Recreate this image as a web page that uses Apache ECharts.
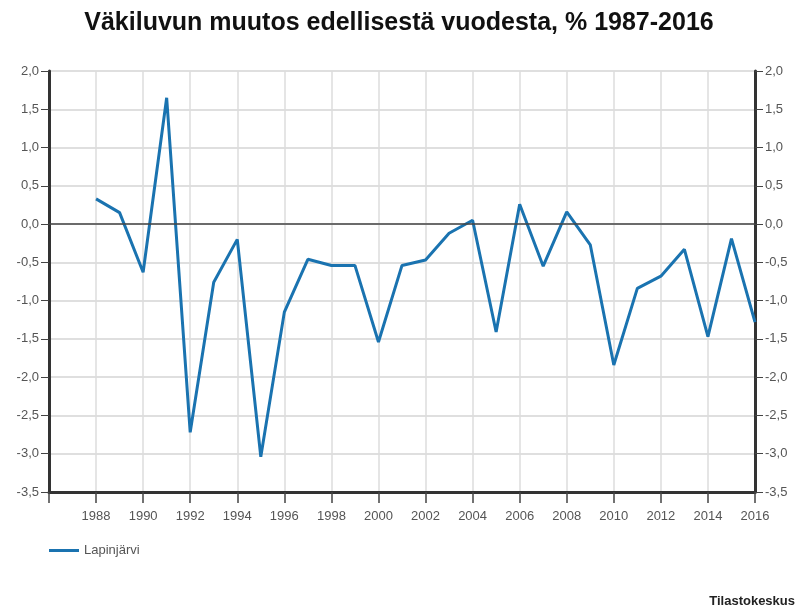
<!DOCTYPE html>
<html><head><meta charset="utf-8">
<script src="https://cdn.jsdelivr.net/npm/echarts@6/dist/echarts.min.js"></script>
<style>html,body{margin:0;padding:0;background:#fff}#c{width:798px;height:612px}</style>
</head><body><div id="c"></div>
<script>
const title = 'Väkiluvun muutos edellisestä vuodesta, % 1987-2016';
const seriesName = 'Lapinjärvi';
const source = 'Tilastokeskus';
const years = [1988,1989,1990,1991,1992,1993,1994,1995,1996,1997,1998,1999,2000,2001,2002,2003,2004,2005,2006,2007,2008,2009,2010,2011,2012,2013,2014,2015,2016];
const values = [0.33,0.15,-0.63,1.65,-2.72,-0.76,-0.20,-3.04,-1.15,-0.46,-0.54,-0.54,-1.54,-0.54,-0.47,-0.12,0.05,-1.41,0.26,-0.55,0.16,-0.27,-1.84,-0.84,-0.68,-0.33,-1.47,-0.19,-1.28];
const yTicks = {min:-3.5, max:2.0, interval:0.5};
const xTicks = {min:1986, max:2016, interval:2};

const FONT = 'Liberation Sans, Arial, sans-serif';
const fmtY = v => v.toFixed(1).replace('.', ',');
const labelStyle = {color:'#555', fontSize:13, fontFamily:FONT};
const yAxisCommon = {
  type:'value', min:yTicks.min, max:yTicks.max, interval:yTicks.interval,
  axisLine:{show:true, lineStyle:{color:'#333', width:3}},
  axisTick:{show:true, length:8, lineStyle:{color:'#444', width:1}},
  splitLine:{show:true, lineStyle:{color:'#ddd', width:1.5}},
  axisLabel:Object.assign({formatter:fmtY, margin:10}, labelStyle)
};
const chart = echarts.init(document.getElementById('c'), null, {renderer:'canvas'});
chart.setOption({
  animation:false,
  backgroundColor:'#fff',
  title:{text:title, left:'center', top:6, textStyle:{fontSize:25, fontWeight:'bold', color:'#111', fontFamily:FONT}},
  grid:{left:49, right:43, top:71, bottom:120, containLabel:false},
  xAxis:{
    type:'value', min:xTicks.min, max:xTicks.max, interval:xTicks.interval,
    axisLine:{show:true, onZero:false, lineStyle:{color:'#333', width:3}},
    axisTick:{show:true, length:11, lineStyle:{color:'#444', width:1.5}},
    splitLine:{show:true, lineStyle:{color:'#ddd', width:1.5}},
    axisLabel:Object.assign({margin:18, formatter:v => v === xTicks.min ? '' : String(v)}, labelStyle)
  },
  yAxis:[
    Object.assign({position:'left'}, yAxisCommon),
    Object.assign({position:'right'}, yAxisCommon)
  ],
  legend:{
    left:44, top:539, icon:'rect', itemWidth:30, itemHeight:3, itemGap:10,
    textStyle:{color:'#555', fontSize:13, fontFamily:FONT},
    data:[seriesName]
  },
  graphic:[{type:'text', right:3, top:595, style:{text:source, fill:'#222', font:'bold 13px Liberation Sans, Arial, sans-serif'}}],
  series:[{
    name:seriesName, type:'line', yAxisIndex:0,
    data:years.map((y,i)=>[y, values[i]]),
    showSymbol:false, symbol:'none',
    lineStyle:{color:'#1a73b0', width:3}, itemStyle:{color:'#1a73b0'},
    markLine:{silent:true, symbol:'none', label:{show:false}, lineStyle:{color:'#444', width:1.5, type:'solid'}, data:[{yAxis:0}]},
    z:3
  }]
});
</script></body></html>
